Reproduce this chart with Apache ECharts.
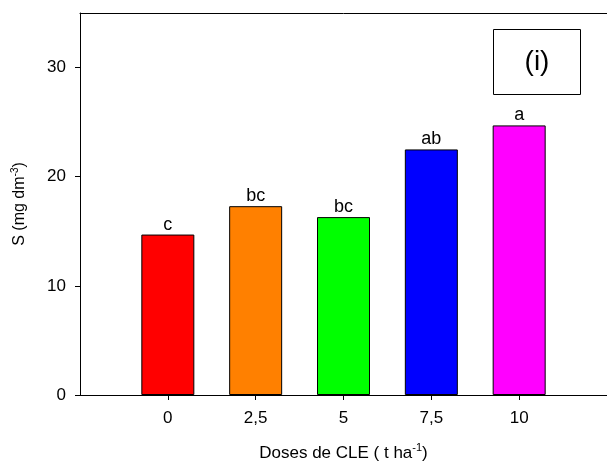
<!DOCTYPE html>
<html>
<head>
<meta charset="utf-8">
<script src="https://cdn.jsdelivr.net/npm/echarts@6/dist/echarts.min.js"></script>
<style>html,body{margin:0;padding:0;background:#fff}#c{width:607px;height:468px}</style>
</head>
<body>
<div id="c"></div>
<script>
const doses = [0, 2.5, 5, 7.5, 10];
const sValues = [14.7, 17.3, 16.3, 22.5, 24.7];
const letters = ['c', 'bc', 'bc', 'ab', 'a'];
const barColors = ['#ff0000', '#ff8000', '#00ff00', '#0000ff', '#ff00ff'];
const yTicks = [0, 10, 20, 30];
const panelLabel = '(i)';

const chart = echarts.init(document.getElementById('c'));
const font = 'Liberation Sans, Arial, sans-serif';
chart.setOption({
  animation: false,
  grid: { left: 80, top: 13, width: 531, bottom: 73, show: false },
  xAxis: [{
    type: 'value', min: -2.5, max: 12.5,
    splitLine: { show: false },
    axisLine: { onZero: false, lineStyle: { color: '#000', width: 1 } },
    axisTick: { show: true, length: 5, customValues: doses, lineStyle: { color: '#000' } },
    axisLabel: { customValues: doses, color: '#000', fontFamily: font, fontSize: 17, margin: 15,
      formatter: v => String(v).replace('.', ',') },
    name: '{n|Doses de CLE ( t ha}{s|-1}{n|)}',
    nameLocation: 'middle', nameGap: 47,
    nameTextStyle: { rich: {
      n: { fontFamily: font, fontSize: 17, color: '#000' },
      s: { fontFamily: font, fontSize: 11, color: '#000', padding: [0, 0, 11, 0] }
    } }
  }, {
    type: 'value', position: 'top', min: -2.5, max: 12.5,
    splitLine: { show: false },
    axisLine: { show: true, onZero: false, lineStyle: { color: '#000', width: 1 } },
    axisTick: { show: false }, axisLabel: { show: false }
  }],
  yAxis: {
    type: 'value', min: 0, max: 35, interval: 10,
    splitLine: { show: false },
    axisLine: { show: true, onZero: false, lineStyle: { color: '#000', width: 1 } },
    axisTick: { show: true, length: 5, customValues: yTicks, lineStyle: { color: '#000' } },
    axisLabel: { customValues: yTicks, color: '#000', fontFamily: font, fontSize: 17, margin: 14 },
    name: '{n|S (mg dm}{s|-3}{n|)}',
    nameLocation: 'middle', nameGap: 50,
    nameTextStyle: { rich: {
      n: { fontFamily: font, fontSize: 16, color: '#000' },
      s: { fontFamily: font, fontSize: 10, color: '#000', padding: [0, 0, 10, 0] }
    } }
  },
  series: [{
    type: 'bar',
    xAxisIndex: 0,
    barWidth: 53,
    data: doses.map((d, i) => ({
      value: [d, sValues[i]],
      itemStyle: { color: barColors[i], borderColor: '#000', borderWidth: 1 },
      label: { show: true, position: 'top', distance: 1, formatter: letters[i],
        color: '#000', fontFamily: font, fontSize: 18 }
    }))
  }],
  graphic: [{
    type: 'group', left: 493, top: 29,
    children: [
      { type: 'rect', shape: { x: 0, y: 0, width: 87, height: 65 },
        style: { fill: '#fff', stroke: '#000', lineWidth: 1 } },
      { type: 'text', x: 43.5, y: 32.5,
        style: { text: panelLabel, fontFamily: font, fontSize: 28, fill: '#000', align: 'center', verticalAlign: 'middle' } }
    ]
  }]
});
</script>
</body>
</html>
